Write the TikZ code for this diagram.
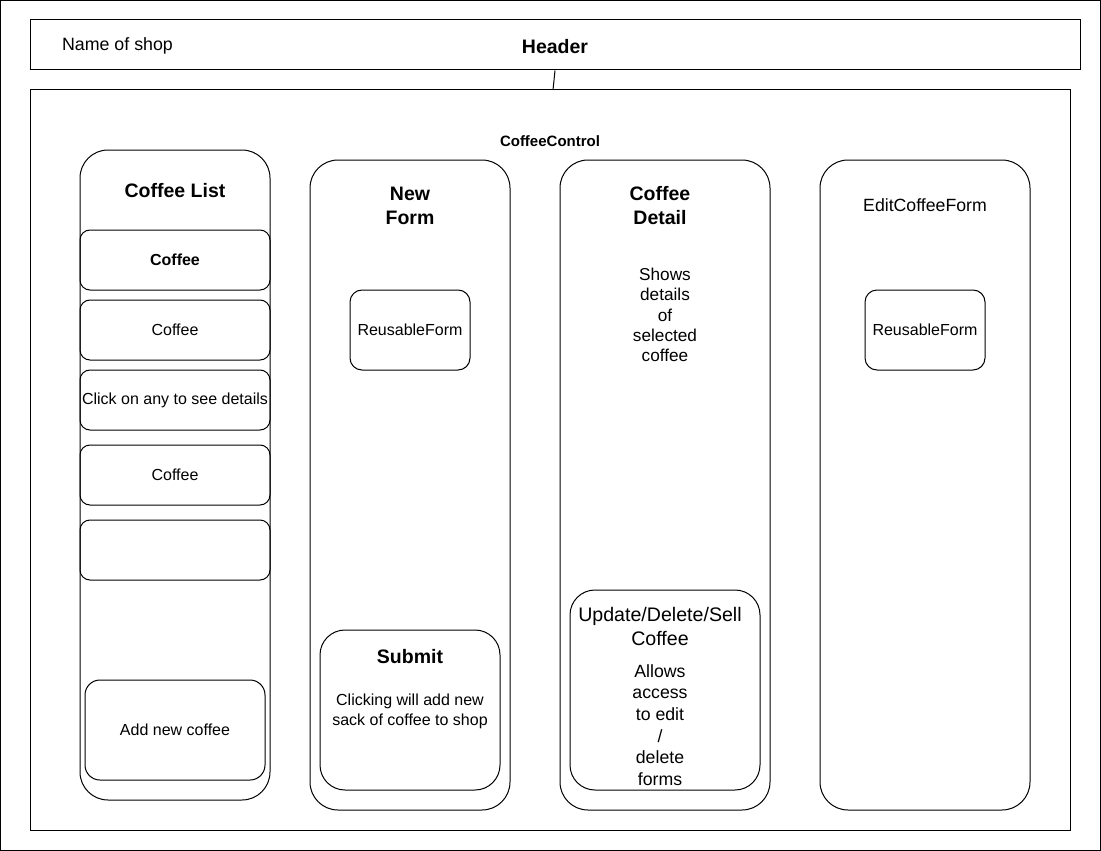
\documentclass[tikz,border=0pt]{standalone}
\usepackage{fontspec}
\setmainfont{Liberation Sans}
\tikzset{
  pane/.style={draw, rounded corners=28pt, minimum width=190pt, minimum height=650pt, inner sep=0pt},
  item/.style={draw, rounded corners=10pt, minimum width=190pt, minimum height=60pt, inner sep=0pt, font=\fontsize{16}{20}\selectfont},
  formbox/.style={draw, rounded corners=12pt, minimum width=120pt, minimum height=80pt, inner sep=0pt, font=\fontsize{16}{20}\selectfont},
  btn/.style={draw, rounded corners=25pt, minimum width=180pt, minimum height=160pt, inner sep=0pt},
  ttl/.style={align=center, inner sep=0pt, font=\fontsize{19.5}{24}\selectfont\bfseries},
  txt/.style={align=center, inner sep=0pt, font=\fontsize{16}{20}\selectfont},
}
\begin{document}
\begin{tikzpicture}[x=1pt,y=-1pt,line width=1pt]
   \useasboundingbox (0,0) rectangle (1101,851);
   \draw (0.5,0.5) rectangle (1100,850);
   % header and main container
   \node[draw, minimum width=1050pt, minimum height=50pt] (header) at (555,45) {};
   \node[ttl] (headertxt) at (555,47) {Header};
   \node[txt, font=\fontsize{17.8}{22}\selectfont] (shopname) at (117.5,46) {Name of shop};
   \node[draw, minimum width=1040pt, minimum height=740pt] (main) at (550,460) {};
   \node[ttl, font=\fontsize{15}{18}\selectfont\bfseries] (control) at (550,141) {CoffeeControl};
   \coordinate (maintop) at (553,90);
   \draw (header.south) -- (maintop);
   % coffee list
   \node[pane] (list) at (175,475) {};
   \node[ttl] (listtitle) at (175,191) {Coffee List};
   \node[item, font=\fontsize{16}{20}\selectfont\bfseries] (c1) at (175,260) {Coffee};
   \node[item] (c2) at (175,330) {Coffee};
   \node[item] (c3) at (175,400) {Click on any to see details};
   \node[item] (c4) at (175,475) {Coffee};
   \node[item] (c5) at (175,550) {};
   \node[item, rounded corners=15pt, minimum width=180pt, minimum height=100pt] (addnew) at (175,730) {Add new coffee};
   % new form
   \node[pane, minimum width=200pt] (newform) at (410,485) {};
   \node[ttl] (newtitle) at (410,206) {New\\Form};
   \node[formbox] (reuse1) at (410,330) {ReusableForm};
   \node[btn] (submit) at (410,710) {};
   \node[ttl] (submittitle) at (410,657) {Submit};
   \node[txt] (submittxt) at (410,711) {Clicking will add new\\sack of coffee to shop};
   % coffee detail
   \node[pane, minimum width=210pt] (detail) at (665,485) {};
   \node[ttl] (detailtitle) at (660,206) {Coffee\\Detail};
   \node[txt, font=\fontsize{17.2}{20.2}\selectfont] (detailtxt) at (665,315) {Shows\\details\\of\\selected\\coffee};
   \node[btn, minimum width=190pt, minimum height=200pt] (update) at (665,690) {};
   \node[txt, font=\fontsize{19.6}{24}\selectfont] (updatetitle) at (660,626) {Update/Delete/Sell\\Coffee};
   \node[txt, font=\fontsize{17.7}{21.6}\selectfont] (updatetxt) at (660,725) {Allows\\access\\to edit\\/\\delete\\forms};
   % edit form
   \node[pane, minimum width=210pt] (edit) at (925,485) {};
   \node[txt, font=\fontsize{17.7}{22}\selectfont] (edittitle) at (925,205) {EditCoffeeForm};
   \node[formbox] (reuse2) at (925,330) {ReusableForm};
\end{tikzpicture}
\end{document}
